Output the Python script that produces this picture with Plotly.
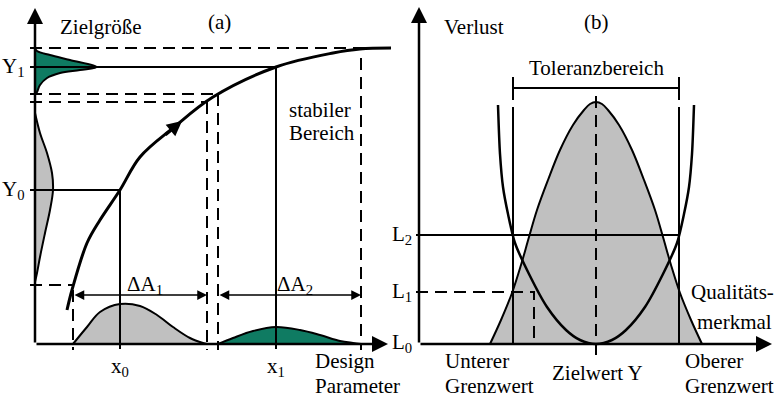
import plotly.graph_objects as go

# ------------------------------------------------------------------
# Panel (a): Zielgröße vs. Design-Parameter (schematic units)
# ------------------------------------------------------------------
A_CURVE_X = [3.2, 3.7, 5.2, 6.5, 8.5, 10.5, 13.8, 17.8, 24.1, 29.8, 32.5, 36.2]
A_CURVE_Y = [3.4, 5.4, 10.1, 12.4, 15.4, 18.7, 21.6, 24.7, 27.7, 29.1, 29.5, 29.6]

A_Y1, A_Y0 = 27.7, 15.4          # Y1, Y0 levels
A_X0, A_X1 = 8.5, 24.1           # x0, x1 positions

# design-parameter distributions on the x axis
A_BELL0_X = [3.8, 5.2, 6.5, 8.5, 10.5, 12.2, 13.8, 15.5, 16.8, 17.2]
A_BELL0_Y = [0.0, 1.7, 3.2, 4.0, 3.8, 2.9, 1.7, 0.6, 0.1, 0.0]
A_BELL1_X = [18.3, 19.8, 21.8, 24.1, 26.5, 28.5, 30.5, 31.8, 32.6]
A_BELL1_Y = [0.0, 0.6, 1.3, 1.7, 1.4, 0.9, 0.3, 0.1, 0.0]

# response distributions on the y axis
A_DIST0_Y = [23.1, 21.1, 19.1, 17.1, 15.4, 13.4, 11.1, 8.7, 7.1, 6.2]
A_DIST0_X = [0.0, 0.5, 1.2, 1.7, 1.8, 1.5, 1.0, 0.5, 0.2, 0.0]
A_DIST1_Y = [29.6, 29.3, 28.9, 28.4, 27.7, 27.4, 27.1, 26.6, 25.9, 25.2, 24.9]
A_DIST1_X = [0.0, 0.2, 1.5, 3.5, 6.2, 4.5, 2.5, 1.2, 0.5, 0.2, 0.0]

# dashed helper lines
A_HDASH_Y = [29.6, 25.0, 24.2, 5.9]
A_HDASH_END = [34.0, 18.3, 17.2, 3.7]
A_VDASH_X = [3.8, 17.2, 18.3, 32.6]
A_VDASH_TOP = [5.4, 24.2, 25.0, 28.6]

# ΔA ranges
A_DELTA_FROM = [3.8, 18.3]
A_DELTA_TO = [17.2, 32.6]
A_DELTA_Y = 4.9
A_DELTA_LABELS = ["ΔA<sub>1</sub>", "ΔA<sub>2</sub>"]

A_AXIS_XMAX, A_AXIS_YMAX = 35.3, 33.6

# ------------------------------------------------------------------
# Panel (b): Verlust vs. Qualitätsmerkmal (target value at 0)
# ------------------------------------------------------------------
B_BELL_X = [-10.6, -9.5, -8.4, -7.5, -6.7, -5.9, -4.8, -3.6, -2.3, -1.2, -0.6, 0.0,
            0.6, 1.2, 2.3, 3.6, 4.8, 5.9, 6.7, 7.5, 8.4, 9.5, 10.6]
B_BELL_Y = [0.0, 2.4, 5.1, 7.9, 10.7, 13.4, 16.4, 19.4, 21.9, 23.4, 24.0, 24.2,
            24.0, 23.4, 21.9, 19.4, 16.4, 13.4, 10.7, 7.9, 5.1, 2.4, 0.0]
B_LOSS_X = [-9.8, -9.6, -9.3, -8.8, -8.1, -6.7, -4.9, -3.0, -1.6, 0.0,
            1.6, 3.0, 4.9, 6.7, 8.1, 8.8, 9.3, 9.6, 9.8]
B_LOSS_Y = [23.9, 19.0, 15.7, 13.0, 10.1, 7.0, 3.7, 1.4, 0.4, 0.0,
            0.4, 1.4, 3.7, 7.0, 10.1, 13.0, 15.7, 19.0, 23.9]

B_LIMITS = [-8.3, 8.3]            # Unterer / Oberer Grenzwert
B_LIMIT_TOP = 23.7
B_BRACKET_Y = 25.6
B_L2, B_L1 = 10.9, 5.2
B_L1_X = -6.2
B_AXIS_X0 = -17.7
B_AXIS_XMAX, B_AXIS_YMAX = 17.6, 33.7

FONT = "Liberation Serif, Times New Roman, serif"
FSIZE = 21
GRAY = "#c0c0c0"
GREEN = "#0f7b62"
DASH = "12px,7px"

fig = go.Figure()


def seg(xs, ys, xaxis, width=2, dash=None, color="black"):
    fig.add_trace(go.Scatter(x=xs, y=ys, mode="lines", xaxis=xaxis[0], yaxis=xaxis[1],
                             line=dict(color=color, width=width, dash=dash),
                             hoverinfo="skip", showlegend=False))


ax_a = ("x", "y")
ax_b = ("x2", "y2")

# ---------------- panel (a) ----------------
fig.add_trace(go.Scatter(x=A_BELL0_X, y=A_BELL0_Y, mode="lines", fill="tozeroy", fillcolor=GRAY,
                         line=dict(color="black", width=2, shape="spline", smoothing=1),
                         xaxis="x", yaxis="y", hoverinfo="skip"))
fig.add_trace(go.Scatter(x=A_BELL1_X, y=A_BELL1_Y, mode="lines", fill="tozeroy", fillcolor=GREEN,
                         line=dict(color="black", width=2, shape="spline", smoothing=1),
                         xaxis="x", yaxis="y", hoverinfo="skip"))
fig.add_trace(go.Scatter(x=A_DIST0_X, y=A_DIST0_Y, mode="lines", fill="tozerox", fillcolor=GRAY,
                         line=dict(color="black", width=2, shape="spline", smoothing=1),
                         xaxis="x", yaxis="y", hoverinfo="skip"))
fig.add_trace(go.Scatter(x=A_DIST1_X, y=A_DIST1_Y, mode="lines", fill="tozerox", fillcolor=GREEN,
                         line=dict(color="black", width=2, shape="spline", smoothing=1),
                         xaxis="x", yaxis="y", hoverinfo="skip"))

hx, hy = [], []
for yv, xe in zip(A_HDASH_Y, A_HDASH_END):
    hx += [-0.5, xe, None]
    hy += [yv, yv, None]
seg(hx, hy, ax_a, 2, DASH)
vx, vy = [], []
for xv, yt in zip(A_VDASH_X, A_VDASH_TOP):
    vx += [xv, xv, None]
    vy += [yt, -0.6, None]
seg(vx, vy, ax_a, 2, DASH)

seg([-0.5, A_X1, A_X1], [A_Y1, A_Y1, -0.5], ax_a, 2)
seg([-0.5, A_X0, A_X0], [A_Y0, A_Y0, -0.5], ax_a, 2)

fig.add_trace(go.Scatter(x=A_CURVE_X, y=A_CURVE_Y, mode="lines",
                         line=dict(color="black", width=3, shape="spline", smoothing=1),
                         xaxis="x", yaxis="y", hoverinfo="skip"))

# ---------------- panel (b) ----------------
fig.add_trace(go.Scatter(x=B_BELL_X, y=B_BELL_Y, mode="lines", fill="tozeroy", fillcolor=GRAY,
                         line=dict(color="black", width=2, shape="spline", smoothing=1),
                         xaxis="x2", yaxis="y2", hoverinfo="skip"))
fig.add_trace(go.Scatter(x=B_LOSS_X, y=B_LOSS_Y, mode="lines",
                         line=dict(color="black", width=2.5, shape="spline", smoothing=0.8),
                         xaxis="x2", yaxis="y2", hoverinfo="skip"))
lx, ly = [], []
for xv in B_LIMITS:
    lx += [xv, xv, None]
    ly += [0, B_LIMIT_TOP, None]
seg(lx, ly, ax_b, 2)
seg([B_LIMITS[0], B_LIMITS[0], None, B_LIMITS[0], B_LIMITS[1], None, B_LIMITS[1], B_LIMITS[1]],
    [B_BRACKET_Y - 1.2, B_BRACKET_Y + 1.1, None, B_BRACKET_Y, B_BRACKET_Y, None,
     B_BRACKET_Y - 1.2, B_BRACKET_Y + 1.1], ax_b, 2)
seg([0, 0], [-1.1, 24.9], ax_b, 2, DASH)
seg([B_AXIS_X0 - 0.3, B_LIMITS[1]], [B_L2, B_L2], ax_b, 2)
seg([B_AXIS_X0 - 0.3, B_L1_X, B_L1_X], [B_L1, B_L1, 0], ax_b, 2, DASH)

# ---------------- arrows ----------------
ann = []


def arrow(x, y, axv, ayv, xr, yr, width=2.5, size=1.28, both=False):
    d = dict(x=x, y=y, ax=axv, ay=ayv, xref=xr, yref=yr, axref=xr, ayref=yr, text="",
             showarrow=True, arrowhead=2, arrowsize=size, arrowwidth=width, arrowcolor="black")
    if both:
        d.update(arrowside="end+start", startarrowhead=2, startarrowsize=size)
    ann.append(d)


arrow(0, A_AXIS_YMAX, 0, 0, "x", "y")
arrow(A_AXIS_XMAX, 0, 0, 0, "x", "y")
arrow(B_AXIS_X0, B_AXIS_YMAX, B_AXIS_X0, 0, "x2", "y2")
arrow(B_AXIS_XMAX, 0, B_AXIS_X0, 0, "x2", "y2")
for a0, a1 in zip(A_DELTA_FROM, A_DELTA_TO):
    arrow(a1, A_DELTA_Y, a0, A_DELTA_Y, "x", "y", width=1.5, size=1.3, both=True)
arrow(14.7, 22.3, 12.9, 20.8, "x", "y", width=3, size=1.0)


def label(t, x, y, xr, yr, xa="center"):
    ann.append(dict(text=t, x=x, y=y, xref=xr, yref=yr, showarrow=False, xanchor=xa,
                    yanchor="middle", font=dict(family=FONT, size=FSIZE, color="black")))


label("Zielgröße", 6.6, 31.7, "x", "y")
label("(a)", 18.4, 32.2, "x", "y")
label("Y<sub>1</sub>", -2.2, A_Y1, "x", "y")
label("Y<sub>0</sub>", -2.2, A_Y0, "x", "y")
label("stabiler", 25.2, 23.4, "x", "y", "left")
label("Bereich", 25.2, 21.1, "x", "y", "left")
for a0, a1, t in zip(A_DELTA_FROM, A_DELTA_TO, A_DELTA_LABELS):
    label(t, (a0 + a1) / 2 + 0.5, 5.9, "x", "y")
label("x<sub>0</sub>", A_X0, -2.3, "x", "y")
label("x<sub>1</sub>", A_X1, -2.3, "x", "y")
label("Design", 27.8, -1.7, "x", "y", "left")
label("Parameter", 27.8, -4.2, "x", "y", "left")

label("Verlust", -15.4, 31.7, "x2", "y2", "left")
label("(b)", 0, 32.2, "x2", "y2")
label("Toleranzbereich", 0, 27.6, "x2", "y2")
label("L<sub>2</sub>", -19.4, B_L2, "x2", "y2")
label("L<sub>1</sub>", -19.4, B_L1, "x2", "y2")
label("L<sub>0</sub>", -19.4, 0.1, "x2", "y2")
label("Qualitäts-", 13.6, 5.2, "x2", "y2")
label("merkmal", 13.8, 2.2, "x2", "y2")
label("Unterer", -15.3, -1.7, "x2", "y2", "left")
label("Grenzwert", -15.3, -4.2, "x2", "y2", "left")
label("Zielwert Y", 0.1, -2.9, "x2", "y2")
label("Oberer", 8.7, -1.7, "x2", "y2", "left")
label("Grenzwert", 8.7, -4.2, "x2", "y2", "left")

hidden = dict(visible=False, showgrid=False, zeroline=False, fixedrange=True)
fig.update_layout(
    width=782, height=400, margin=dict(l=0, r=0, t=0, b=0),
    paper_bgcolor="white", plot_bgcolor="white", showlegend=False,
    font=dict(family=FONT, size=FSIZE, color="black"),
    xaxis=dict(domain=[0, 0.5], range=[-3.5, 35.6], **hidden),
    yaxis=dict(domain=[0, 1], range=[-5.6, 34.4], **hidden),
    xaxis2=dict(domain=[0.5, 1], range=[-20.5, 18.6], anchor="y2", **hidden),
    yaxis2=dict(domain=[0, 1], range=[-5.6, 34.4], anchor="x2", **hidden),
    annotations=ann,
)

fig.write_html("out.html", config={"displayModeBar": False},
               post_script="document.body.style.margin='0';document.body.style.overflow='hidden';")
